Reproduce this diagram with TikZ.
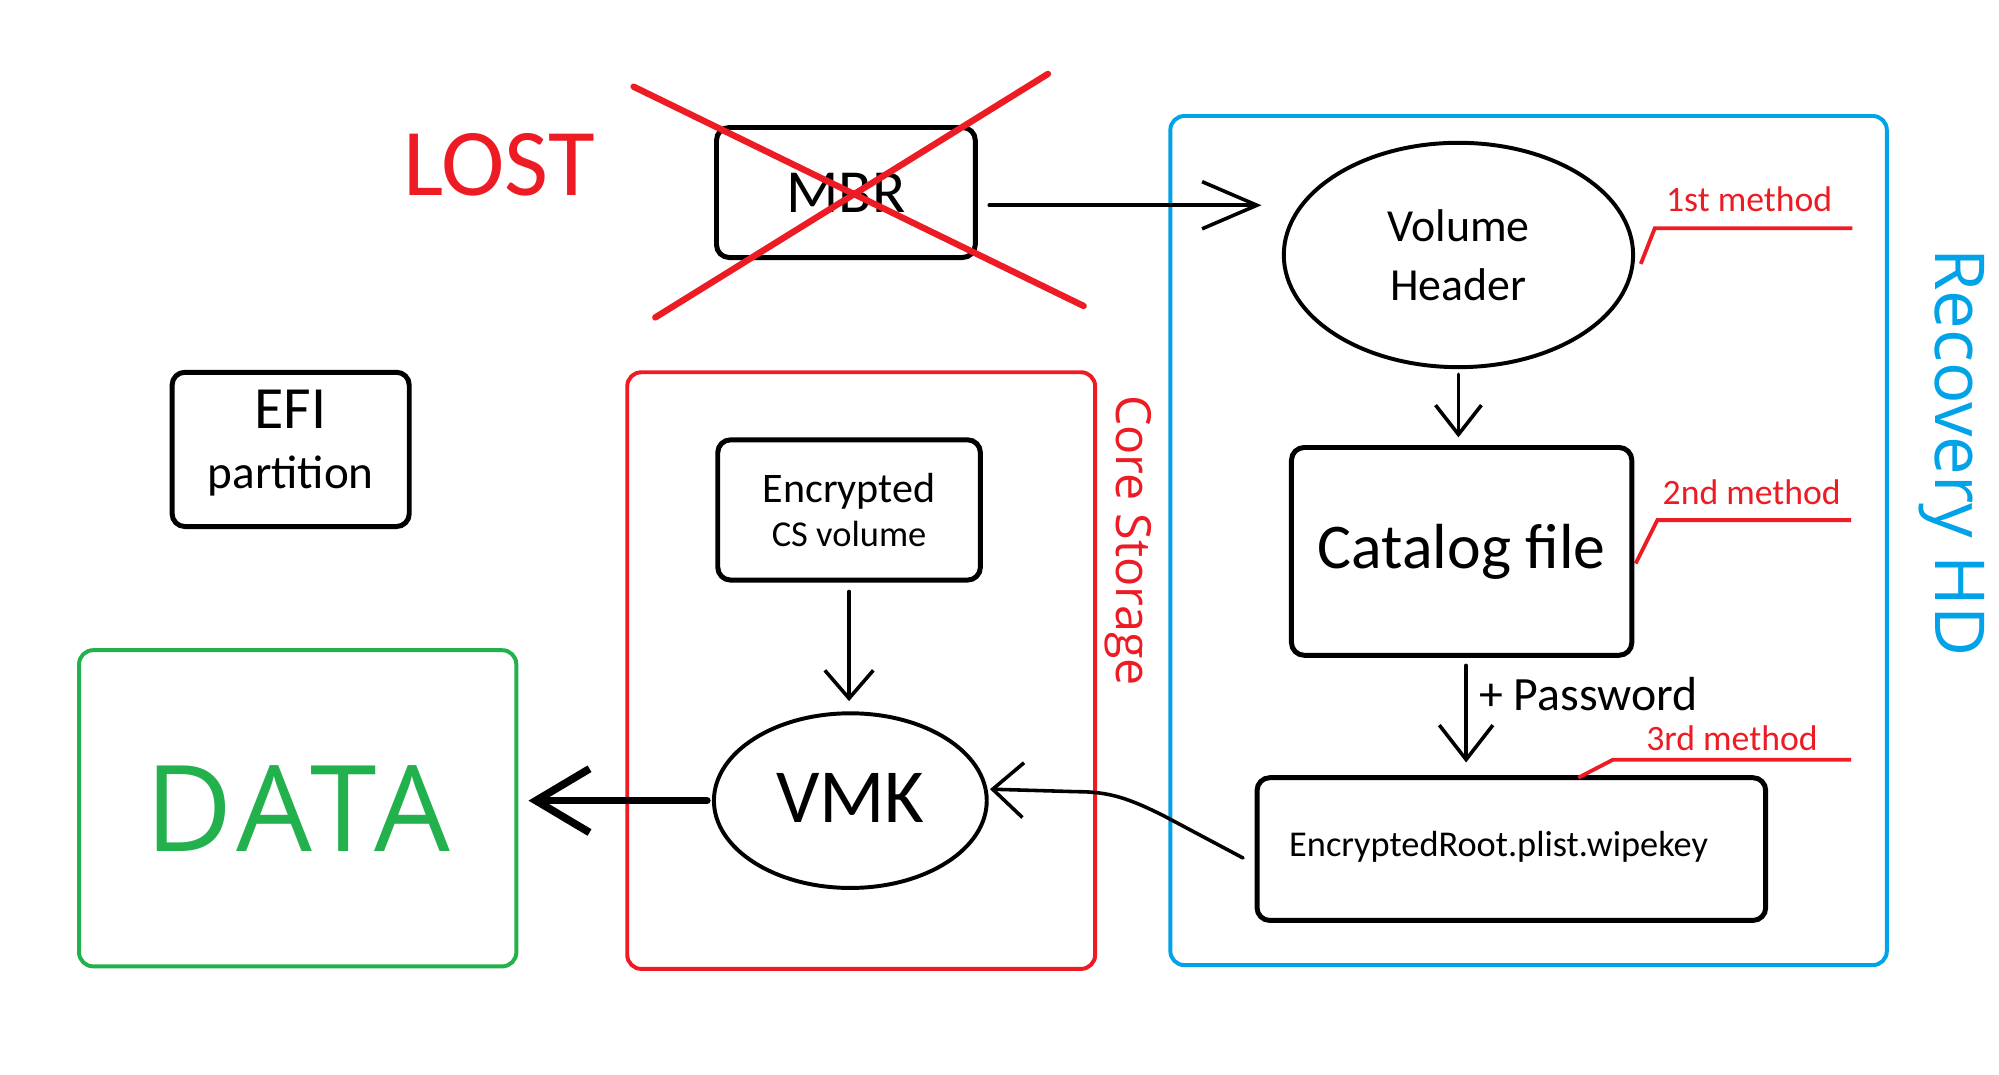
\documentclass[tikz,border=0pt]{standalone}
\usepackage{fontspec}
\setmainfont{Carlito}
\newfontfamily\segoe{Open Sans}
\newfontfamily\segowide{Open Sans}[LetterSpace=5]
\usetikzlibrary{arrows.meta,shapes.geometric}
\definecolor{pred}{HTML}{ED1C24}
\definecolor{pgreen}{HTML}{22B14C}
\definecolor{pblue}{HTML}{00A2E8}
\tikzset{
  fs/.style={font=\fontsize{#1}{#1}\selectfont},
  blackbox/.style={draw=black, line width=3.9pt, rounded corners=10pt, inner sep=0pt},
  oval/.style={ellipse, draw=black, line width=3.1pt, inner sep=0pt, align=center},
  region/.style={draw=#1, line width=3.1pt, rounded corners=11pt, inner sep=0pt},
  conn/.style={line width=2.8pt, line cap=round},
  leader/.style={draw=pred, line width=3pt},
  cross/.style={draw=pred, line width=5pt, line cap=round},
  redtxt/.style={text=pred, inner sep=0pt}
}
\begin{document}
\begin{tikzpicture}[x=1pt, y=-1pt]
\useasboundingbox[fill=white] (0,0) rectangle (1568,843.2);

% regions
\node[region=pred, minimum width=367pt, minimum height=468pt] (core) at (675.5,526) {};
\node[region=pblue, minimum width=562pt, minimum height=666pt] (rec) at (1199,424) {};
\node[region=pgreen, minimum width=343pt, minimum height=248pt, text=pgreen, font=\segowide\fontsize{94}{94}\selectfont] (data) at (233.5,634) {DATA};

% region labels
\node[redtxt, rotate=-90, font=\segoe\fontsize{38}{38}\selectfont] (coret) at (885,424) {Core Storage};
\node[text=pblue, inner sep=0pt, rotate=-90, font=\segoe\fontsize{54}{54}\selectfont] (rect) at (1531,355) {Recovery HD};

% LOST + MBR
\node[redtxt, fs=75, anchor=base] (lost) at (391.5,153) {LOST};
\node[blackbox, minimum width=203pt, minimum height=102pt, fs=48] (mbr) at (663.5,151) {MBR};
\draw[cross] (497,68) -- (850,240);
\draw[cross] (822,58) -- (514,249);

% EFI
\node[blackbox, align=center, minimum width=186pt, minimum height=121pt, font=\fontsize{37}{47}\selectfont] (efi) at (228,352.5) {{\fontsize{47}{47}\selectfont EFI}\\partition\rule[-16pt]{0pt}{16pt}};

% Core storage contents
\node[blackbox, align=center, minimum width=206pt, minimum height=110pt, font=\fontsize{28.6}{35}\selectfont] (enc) at (666,400) {{\fontsize{33}{35}\selectfont Encrypted}\\CS volume};
\node[oval, minimum width=214pt, minimum height=137pt, fs=60] (vmk) at (667,628) {VMK\rule[-4pt]{0pt}{4pt}};

% Recovery HD contents
\node[oval, minimum width=274pt, minimum height=176pt, font=\fontsize{36}{46}\selectfont] (vh) at (1144,200) {Volume\\Header};
\node[blackbox, minimum width=267pt, minimum height=163pt, fs=50] (cat) at (1146.5,432.5) {Catalog file};
\node[blackbox, minimum width=399pt, minimum height=112pt, fs=28.5] (er) at (1185.5,666) {EncryptedRoot.plist.wipekey\kern20pt\rule[-8pt]{0pt}{8pt}};

% connectors
\draw[conn, -{Straight Barb[length=43pt,width=37pt]}] ([shift={(9,10)}]mbr.east) -- ([shift={(-16,-39)}]vh.west);
\draw[conn, -{Straight Barb[length=23pt,width=36pt]}, shorten <=4pt, shorten >=6pt] (vh.south) -- (vh.south |- cat.north);
\draw[conn, -{Straight Barb[length=27pt,width=42pt]}, shorten <=6pt, shorten >=10pt] ([xshift=3.5pt]cat.south) -- ([xshift=3.5pt]cat.south |- er.north);
\node[inner sep=0pt, fs=37.5, anchor=base west] (pw) at (1160,557) {+ Password};
\draw[conn, -{Straight Barb[length=22pt,width=38pt]}, shorten <=7pt, shorten >=8pt] (enc.south) -- (enc.south |- vmk.north);
\draw[line width=6pt, line cap=round, -{Straight Barb[length=42pt,width=50pt]}, shorten <=4pt, shorten >=8pt] (vmk.west) -- (vmk.west -| data.east);
\draw[conn, -{Straight Barb[length=24pt,width=43pt]}] ([shift={(-9,7)}]er.west) -- (913,640) .. controls (885,626) and (870,621) .. (845,621) -- ([shift={(1,-9)}]vmk.east);

% method labels
\node[redtxt, fs=28, anchor=base] (m1) at (1372,166) {1st method};
\draw[leader] (1287,207) -- (1298,179) -- (1453,179);
\node[redtxt, fs=28, anchor=base] (m2) at (1374,396) {2nd method};
\draw[leader] (1283,442) -- (1300,408) -- (1452,408);
\node[redtxt, fs=28, anchor=base] (m3) at (1358.5,589) {3rd method};
\draw[leader] (1238,610) -- (1265,596) -- (1452,596);
\end{tikzpicture}
\end{document}
